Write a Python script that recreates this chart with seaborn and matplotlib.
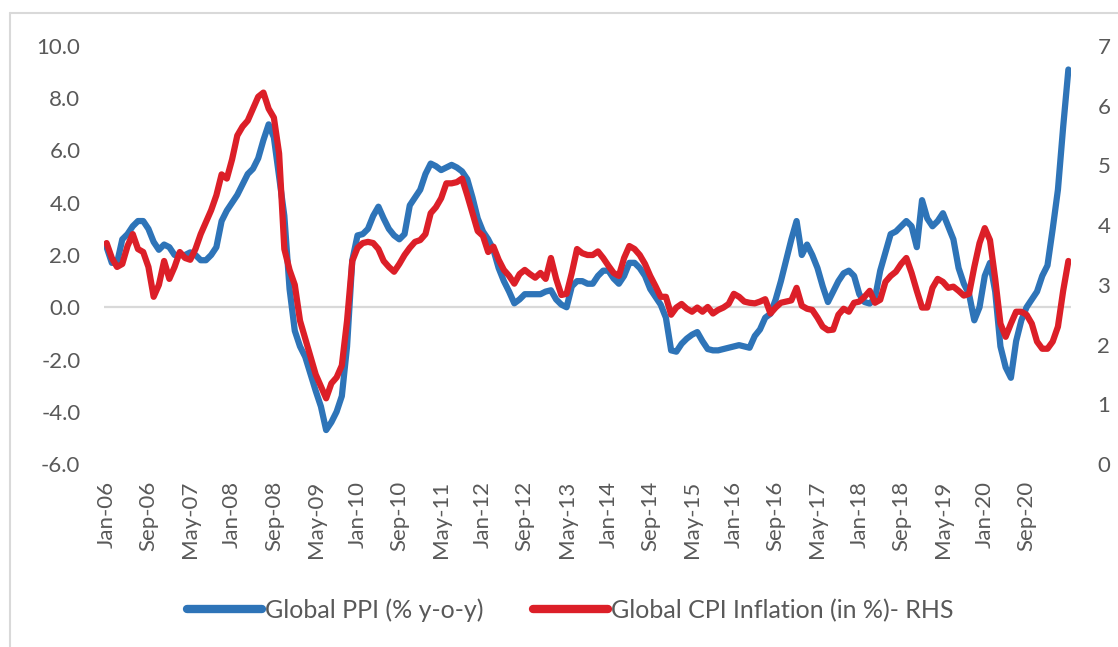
import numpy as np
import pandas as pd
import matplotlib.pyplot as plt
import seaborn as sns
from matplotlib.lines import Line2D

# monthly data, Jan-06 .. May-21
months = pd.date_range('2006-01-01', periods=185, freq='MS').strftime('%b-%y').tolist()

ppi = [
    2.3, 1.7, 1.7, 2.6, 2.8, 3.1, 3.3, 3.3, 3.0, 2.5, 2.2, 2.4,          # 2006
    2.3, 2.0, 2.0, 2.0, 2.1, 2.0, 1.8, 1.8, 2.0, 2.3, 3.3, 3.7,          # 2007
    4.0, 4.3, 4.7, 5.1, 5.3, 5.7, 6.4, 7.0, 6.5, 5.0, 3.5, 0.7,          # 2008
    -0.9, -1.5, -1.9, -2.55, -3.2, -3.8, -4.7, -4.4, -4.0, -3.4, -1.5, 1.8,  # 2009
    2.75, 2.8, 3.0, 3.5, 3.85, 3.4, 3.0, 2.75, 2.6, 2.8, 3.9, 4.2,       # 2010
    4.5, 5.1, 5.5, 5.4, 5.25, 5.35, 5.45, 5.35, 5.2, 4.9, 4.2, 3.4,      # 2011
    2.9, 2.6, 2.2, 1.5, 1.0, 0.6, 0.15, 0.3, 0.5, 0.5, 0.5, 0.5,         # 2012
    0.6, 0.65, 0.3, 0.1, 0.0, 0.8, 1.0, 1.0, 0.9, 0.9, 1.2, 1.4,         # 2013
    1.4, 1.1, 0.9, 1.2, 1.7, 1.7, 1.5, 1.2, 0.7, 0.4, 0.1, -0.4,         # 2014
    -1.65, -1.7, -1.4, -1.2, -1.05, -0.95, -1.3, -1.6, -1.65, -1.65, -1.6, -1.55,  # 2015
    -1.5, -1.45, -1.5, -1.55, -1.1, -0.85, -0.4, -0.25, 0.3, 1.0, 1.8, 2.6,  # 2016
    3.3, 2.0, 2.4, 2.0, 1.5, 0.8, 0.2, 0.6, 1.0, 1.3, 1.4, 1.2,          # 2017
    0.5, 0.2, 0.14, 0.35, 1.4, 2.1, 2.8, 2.9, 3.1, 3.3, 3.1, 2.3,        # 2018
    4.1, 3.4, 3.1, 3.3, 3.6, 3.1, 2.6, 1.5, 0.9, 0.5, -0.5, 0.0,         # 2019
    1.2, 1.7, 0.6, -1.5, -2.3, -2.7, -1.3, -0.5, 0.0, 0.3, 0.6, 1.2,     # 2020
    1.6, 3.0, 4.5, 6.9, 9.1,                                             # 2021
]

cpi = [
    3.7, 3.45, 3.3, 3.35, 3.65, 3.85, 3.6, 3.55, 3.3, 2.8, 3.0, 3.4,
    3.1, 3.3, 3.55, 3.45, 3.42, 3.6, 3.85, 4.05, 4.25, 4.5, 4.85, 4.78,
    5.1, 5.5, 5.65, 5.75, 5.95, 6.15, 6.22, 5.95, 5.8, 5.2, 3.6, 3.25,
    3.0, 2.4, 2.1, 1.8, 1.5, 1.3, 1.1, 1.35, 1.45, 1.65, 2.4, 3.4,
    3.62, 3.7, 3.72, 3.7, 3.6, 3.4, 3.3, 3.22, 3.35, 3.5, 3.62, 3.72,
    3.75, 3.85, 4.2, 4.3, 4.45, 4.7, 4.7, 4.72, 4.78, 4.5, 4.2, 3.9,
    3.82, 3.55, 3.64, 3.42, 3.25, 3.15, 3.02, 3.18, 3.25, 3.18, 3.12, 3.2,
    3.1, 3.45, 3.1, 2.83, 2.85, 3.2, 3.6, 3.53, 3.5, 3.5, 3.56, 3.45,
    3.32, 3.2, 3.15, 3.45, 3.65, 3.6, 3.5, 3.35, 3.15, 2.98, 2.8, 2.8,
    2.5, 2.62, 2.68, 2.6, 2.55, 2.62, 2.55, 2.63, 2.52, 2.58, 2.62, 2.68,
    2.85, 2.8, 2.72, 2.7, 2.69, 2.72, 2.76, 2.52, 2.62, 2.7, 2.72, 2.74,
    2.95, 2.65, 2.6, 2.58, 2.45, 2.3, 2.24, 2.25, 2.5, 2.6, 2.55, 2.7,
    2.72, 2.8, 2.9, 2.7, 2.75, 3.05, 3.15, 3.22, 3.35, 3.45, 3.2, 2.9,
    2.62, 2.62, 2.95, 3.1, 3.05, 2.95, 2.97, 2.9, 2.82, 2.85, 3.3, 3.7,
    3.95, 3.75, 3.1, 2.35, 2.13, 2.35, 2.55, 2.55, 2.5, 2.35, 2.05, 1.93,
    1.93, 2.05, 2.3, 2.9, 3.4,
]

df = pd.DataFrame({'month': months, 'ppi': ppi, 'cpi': cpi})
df['pos'] = np.arange(len(df))

blue = '#2E74B8'
red = '#DC1F28'
grey_txt = '#595959'

sns.set_style('white')
plt.rcParams['font.family'] = ['Lato', 'DejaVu Sans']

W, H = 1118, 647
fig = plt.figure(figsize=(W / 100, H / 100), dpi=100)
ax = fig.add_axes([104 / W, 1 - 464 / H, (1071 - 104) / W, (464 - 46) / H])

ax.axhline(0, color='#D9D9D9', lw=1.6, zorder=1)
sns.lineplot(data=df, x='pos', y='ppi', ax=ax, color=blue, linewidth=4.5,
             solid_joinstyle='round', zorder=3)
ax.set_xlim(-0.5, len(df) - 0.5)
ax.set_ylim(-6, 10)
ax.set_yticks(np.arange(-6, 10.1, 2))
ax.set_yticklabels([f'{v:.1f}' for v in np.arange(-6, 10.1, 2)])
# category labels every 8 months, last one shown is Sep-20
ticks = df.iloc[:177:8]
ax.set_xticks(ticks['pos'])
ax.set_xticklabels(ticks['month'], rotation=90)

ax2 = ax.twinx()
sns.lineplot(data=df, x='pos', y='cpi', ax=ax2, color=red, linewidth=4.5,
             solid_joinstyle='round', zorder=3)
ax2.set_ylim(0, 7)
ax2.set_yticks(range(0, 8))

for a in (ax, ax2):
    a.set_xlabel('')
    a.set_ylabel('')
    for s in a.spines.values():
        s.set_visible(False)
    a.tick_params(length=0, labelsize=16, colors=grey_txt)
ax.tick_params(axis='y', pad=17)
ax.tick_params(axis='x', pad=12)
ax2.tick_params(axis='y', pad=19)

handles = [Line2D([], [], color=blue, lw=6), Line2D([], [], color=red, lw=6)]
fig.legend(handles, ['Global PPI (% y-o-y)', 'Global CPI Inflation (in %)- RHS'],
           loc='center', bbox_to_anchor=(0.51, 1 - 610 / H), ncol=2, frameon=False,
           fontsize=18, handlelength=3.0, handletextpad=0.12, columnspacing=2.0,
           labelcolor=grey_txt)

# chart border (left and top edges visible in reference)
fig.add_artist(Line2D([10 / W, 10 / W], [0, 1 - 12.5 / H], color='#D9D9D9', lw=1.5))
fig.add_artist(Line2D([10 / W, 1], [1 - 12.5 / H, 1 - 12.5 / H], color='#D9D9D9', lw=1.5))

fig.savefig('out.png', dpi=100)
